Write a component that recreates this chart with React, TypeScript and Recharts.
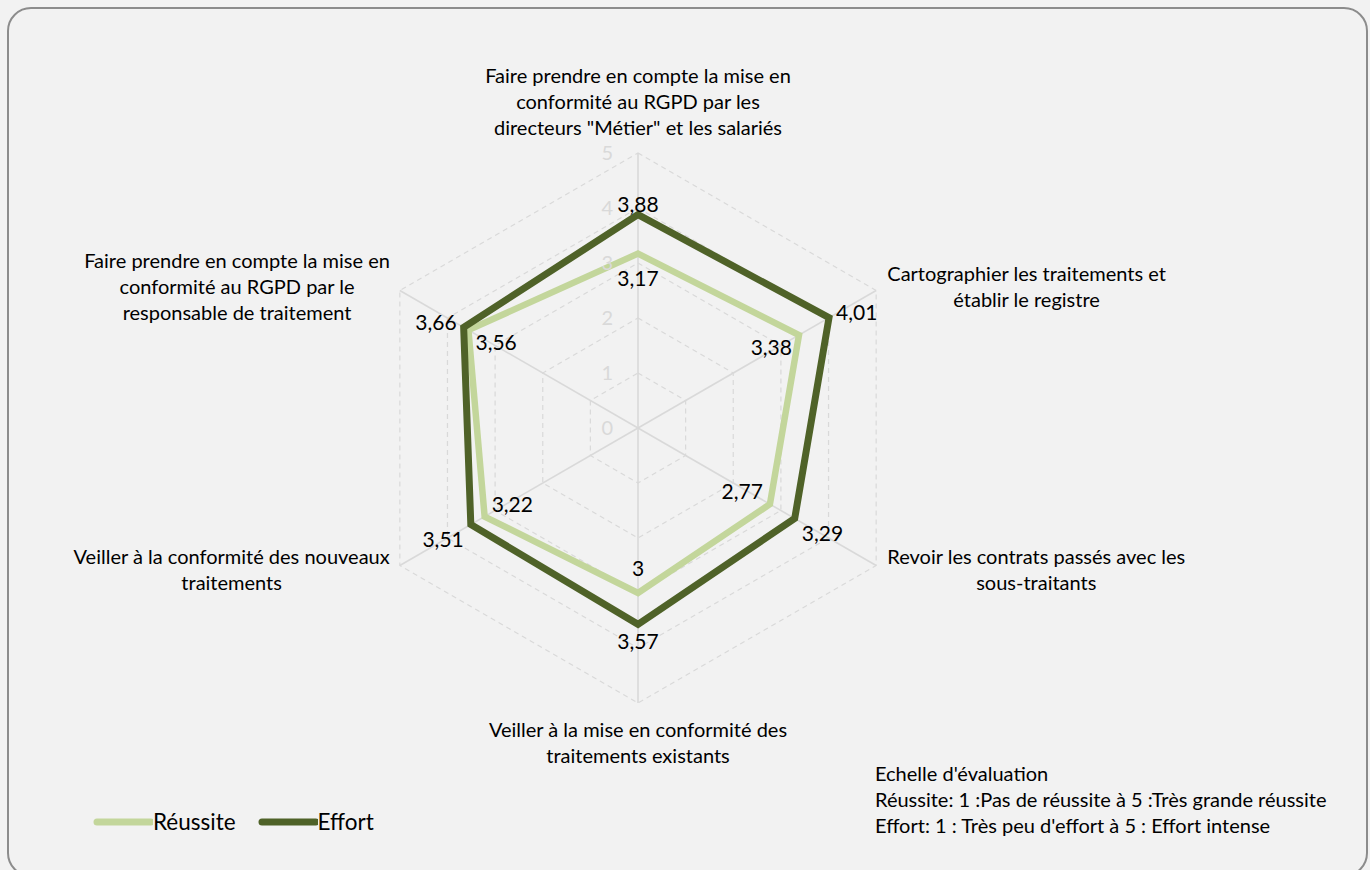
import React from 'react';
import { RadarChart, Radar, PolarGrid, PolarAngleAxis, PolarRadiusAxis, Legend } from 'recharts';

const categories = [
  'Faire prendre en compte la mise en\nconformité au RGPD par les\ndirecteurs "Métier" et les salariés',
  'Cartographier les traitements et\nétablir le registre',
  'Revoir les contrats passés avec les\nsous-traitants',
  'Veiller à la mise en conformité des\ntraitements existants',
  'Veiller à la conformité des nouveaux\ntraitements',
  'Faire prendre en compte la mise en\nconformité au RGPD par le\nresponsable de traitement',
];
const reussite = [3.17, 3.38, 2.77, 3, 3.22, 3.56];
const effort = [3.88, 4.01, 3.29, 3.57, 3.51, 3.66];
const radiusTicks = [0, 1, 2, 3, 4, 5];
const seriesNames = ['Réussite', 'Effort'];
const seriesColors = ['#c3d69b', '#4f6228'];
const noteLines = [
  "Echelle d'évaluation",
  'Réussite: 1 :Pas de réussite à 5 :Très grande réussite',
  "Effort: 1 : Très peu d'effort à 5 : Effort intense",
];

const data = categories.map((c, i) => ({ category: c, reussite: reussite[i], effort: effort[i] }));

const FONT = 'Lato, "Open Sans", sans-serif';
const W = 1370;
const H = 870;
const CX = 638;
const CY = 428;
const R = 275;
const CAT_FS = 20;
const LH = 26;

let ctx: CanvasRenderingContext2D | null = null;
function measure(s: string, size: number) {
  if (!ctx) {
    const c = document.createElement('canvas');
    ctx = c.getContext('2d');
  }
  if (!ctx) return s.length * size * 0.5;
  ctx.font = `${size}px Lato`;
  return ctx.measureText(s).width;
}

const fmt = (v: number) => String(v).replace('.', ',');

function AngleTick(props: any) {
  const { x, y, payload } = props;
  const lines = String(payload.value).split('\n');
  const dx = x - CX;
  const dy = y - CY;
  const len = Math.hypot(dx, dy) || 1;
  const ux = dx / len;
  const uy = dy / len;
  let tx = x;
  let firstY: number;
  if (Math.abs(ux) < 0.2) {
    firstY = uy < 0 ? y - 17 - (lines.length - 1) * LH : y + 19;
  } else {
    const w = Math.max(...lines.map((l) => measure(l, CAT_FS)));
    tx = ux > 0 ? x + 4 + w / 2 : x - 3 - w / 2;
    firstY = y - ((lines.length - 1) * LH) / 2;
  }
  return (
    <text textAnchor="middle" fontSize={CAT_FS} fontFamily={FONT} fill="#000">
      {lines.map((l, k) => (
        <tspan key={k} x={tx} y={firstY + k * LH + CAT_FS * 0.35}>
          {l}
        </tspan>
      ))}
    </text>
  );
}

function RadiusTick(props: any) {
  const { x, y, payload } = props;
  return (
    <text x={x - 25} y={y + 7} textAnchor="end" fontSize={20} fontFamily={FONT} fill="#d9d9d9">
      {payload.value}
    </text>
  );
}

function makeLabelDot(values: number[], outward: boolean) {
  return (props: any) => {
    const { cx, cy, index } = props;
    const dx = cx - CX;
    const dy = cy - CY;
    const len = Math.hypot(dx, dy) || 1;
    let ux = dx / len;
    let uy = dy / len;
    let ox: number;
    let oy: number;
    if (outward) {
      ox = ux * 32;
      oy = uy < 0 ? uy * 10 : uy * (Math.abs(ux) > 0.2 ? 30 : 17);
    } else {
      ux = -ux;
      uy = -uy;
      ox = ux * 32;
      oy = uy * 25;
    }
    return (
      <text
        key={`l-${index}`}
        x={cx + ox}
        y={cy + oy + 7.5}
        textAnchor="middle"
        fontSize={21}
        fontFamily={FONT}
        fill="#000"
      >
        {fmt(values[index])}
      </text>
    );
  };
}

function LegendContent(props: any) {
  const payload = [...(props.payload || [])].sort(
    (a: any, b: any) => seriesNames.indexOf(a.value) - seriesNames.indexOf(b.value)
  );
  return (
    <div style={{ display: 'flex', alignItems: 'center', fontFamily: FONT, fontSize: 22.5 }}>
      {payload.map((p: any, i: number) => (
        <div key={i} style={{ display: 'flex', alignItems: 'center', marginRight: 22 }}>
          <svg width={60} height={10} style={{ marginRight: 0 }}>
            <line x1={4} y1={5} x2={58} y2={5} stroke={p.color} strokeWidth={7} strokeLinecap="round" />
          </svg>
          <span style={{ color: '#000' }}>{p.value}</span>
        </div>
      ))}
    </div>
  );
}

export default function App() {
  return (
    <div
      style={{
        position: 'absolute',
        left: 0,
        top: 0,
        width: W,
        height: H,
        background: '#f2f2f2',
        overflow: 'hidden',
      }}
    >
      <div
        style={{
          position: 'absolute',
          left: 7,
          top: 7,
          width: 1361,
          height: 870,
          border: '2px solid #8c8c8c',
          borderRadius: 24,
          boxSizing: 'border-box',
        }}
      />
      <div style={{ position: 'absolute', left: 0, top: 0 }}>
        <RadarChart width={W} height={H} data={data} cx={CX} cy={CY} outerRadius={R} margin={{ top: 0, right: 0, bottom: 0, left: 0 }}>
          <PolarGrid gridType="polygon" radialLines={false} stroke="#d9d9d9" strokeWidth={1.2} strokeDasharray="5 4" />
          <PolarGrid gridType="polygon" polarRadius={[]} radialLines={true} stroke="#d9d9d9" strokeWidth={1.6} />
          <PolarAngleAxis dataKey="category" tick={<AngleTick />} tickLine={false} axisLine={false} />
          <PolarRadiusAxis
            angle={90}
            domain={[0, 5]}
            ticks={radiusTicks}
            tickCount={6}
            tick={<RadiusTick />}
            axisLine={false}
            tickLine={false}
          />
          <Radar
            name={seriesNames[0]}
            dataKey="reussite"
            stroke={seriesColors[0]}
            strokeWidth={6.5}
            fill="none"
            fillOpacity={0}
            strokeLinejoin="miter"
            dot={makeLabelDot(reussite, false)}
            isAnimationActive={false}
          />
          <Radar
            name={seriesNames[1]}
            dataKey="effort"
            stroke={seriesColors[1]}
            strokeWidth={7}
            fill="none"
            fillOpacity={0}
            strokeLinejoin="miter"
            dot={makeLabelDot(effort, true)}
            isAnimationActive={false}
          />
          <Legend
            content={<LegendContent />}
            wrapperStyle={{ position: 'absolute', left: 93, top: 808, width: 360, bottom: 'auto' }}
          />
        </RadarChart>
      </div>
      <div
        style={{
          position: 'absolute',
          left: 875,
          top: 760,
          fontFamily: FONT,
          fontSize: 20,
          lineHeight: '26px',
          color: '#000',
          whiteSpace: 'nowrap',
        }}
      >
        {noteLines.map((l, i) => (
          <div key={i}>{l}</div>
        ))}
      </div>
    </div>
  );
}
